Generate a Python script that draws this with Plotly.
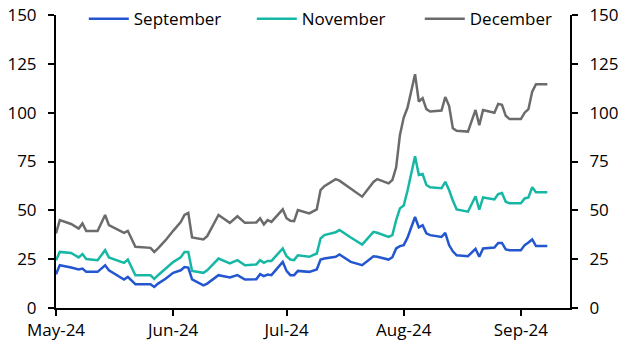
import plotly.graph_objects as go

dates = ["2024-05-01","2024-05-02","2024-05-05","2024-05-07","2024-05-08","2024-05-09","2024-05-12",
         "2024-05-14","2024-05-15","2024-05-19","2024-05-20","2024-05-22","2024-05-26","2024-05-27",
         "2024-05-28","2024-05-30","2024-06-01","2024-06-03","2024-06-04","2024-06-05","2024-06-06",
         "2024-06-09","2024-06-10","2024-06-13","2024-06-16","2024-06-18","2024-06-20","2024-06-23",
         "2024-06-24","2024-06-25","2024-06-26","2024-06-27","2024-06-30","2024-07-01","2024-07-02",
         "2024-07-03","2024-07-04","2024-07-07","2024-07-09","2024-07-10","2024-07-11","2024-07-14",
         "2024-07-15","2024-07-18","2024-07-21","2024-07-24","2024-07-25","2024-07-28","2024-07-29",
         "2024-07-30","2024-07-31","2024-08-01","2024-08-02","2024-08-04","2024-08-05","2024-08-06",
         "2024-08-07","2024-08-08","2024-08-11","2024-08-12","2024-08-13","2024-08-14","2024-08-15",
         "2024-08-18","2024-08-20","2024-08-21","2024-08-22","2024-08-25","2024-08-26","2024-08-27",
         "2024-08-28","2024-08-29","2024-09-01","2024-09-02","2024-09-03","2024-09-04","2024-09-05",
         "2024-09-08"]

september = [17.3,21.9,20.7,19.7,20.2,18.5,18.5,21.9,19.3,14.6,15.9,12.2,12.2,10.8,12.5,15.0,18.0,
             19.3,21.0,20.7,14.6,11.6,12.5,16.8,15.6,16.8,14.6,14.7,17.3,16.3,17.1,16.8,23.6,19.0,
             16.8,16.8,19.0,18.5,19.7,24.8,25.3,26.2,27.4,23.6,21.9,26.5,26.2,24.8,26.0,30.5,31.7,
             32.2,36.0,46.6,41.3,42.4,38.2,37.3,36.4,38.5,32.2,29.0,27.0,26.5,30.3,26.2,30.5,31.0,
             33.3,33.3,30.0,29.6,29.6,32.2,33.5,35.1,31.7,31.7]

november = [24.5,28.7,28.2,25.9,27.6,25.1,24.5,29.6,25.9,23.1,24.8,16.8,16.8,14.9,16.8,20.0,23.5,
            25.9,28.7,28.7,19.0,18.0,19.3,25.3,22.8,24.5,21.9,22.3,24.5,23.1,24.1,24.1,30.5,26.5,
            24.8,24.5,27.0,26.2,27.9,35.6,37.3,38.8,39.9,36.1,32.5,39.0,38.5,36.4,37.3,45.0,51.0,
            52.5,60.0,77.7,68.1,68.6,63.0,61.8,61.3,64.6,60.4,55.0,50.5,49.3,57.2,50.3,56.6,55.6,
            58.3,58.9,54.4,53.6,53.6,56.1,56.6,61.8,59.2,59.2]

december = [38.2,45.0,43.0,40.7,43.3,39.4,39.4,47.6,42.4,38.5,39.5,31.3,30.8,28.7,30.5,34.7,39.5,
            44.0,47.6,48.7,36.1,35.1,36.8,47.6,43.6,47.0,43.6,43.8,45.9,42.8,45.0,44.1,50.5,46.0,
            44.6,44.5,50.1,48.4,50.5,60.4,62.4,66.0,65.2,61.3,57.0,64.5,66.0,63.8,65.5,72.0,88.6,
            97.5,102.5,119.7,105.7,107.4,101.8,100.6,101.1,108.0,103.5,92.0,90.7,90.3,101.4,93.6,
            101.4,100.0,104.5,104.0,98.4,96.7,96.7,100.0,101.8,110.8,114.6,114.6]

series_names = ["September", "November", "December"]
colors = ["#2457CF", "#16B8A5", "#6B6B6B"]
y_ticks = [0, 25, 50, 75, 100, 125, 150]
x_ticks = ["2024-05-01", "2024-06-01", "2024-07-01", "2024-08-01", "2024-09-01"]

fig = go.Figure()
for name, vals, col in zip(series_names, [september, november, december], colors):
    fig.add_trace(go.Scatter(x=dates, y=vals, name=name, mode="lines",
                             line=dict(color=col, width=2.5)))
# invisible trace to anchor right axis
fig.add_trace(go.Scatter(x=[dates[0]], y=[None], yaxis="y2", showlegend=False,
                         hoverinfo="skip", mode="lines"))

font = dict(family="Open Sans", size=17, color="#000000")
axis_common = dict(range=[0, 150], tickvals=y_ticks, ticks="outside", ticklen=6, tickwidth=2,
                   tickcolor="black", showline=True, linecolor="black", linewidth=2,
                   showgrid=False, zeroline=False, tickfont=font, ticklabelstandoff=8)

fig.update_layout(
    width=630, height=355,
    margin=dict(l=56, r=60, t=15, b=47, autoexpand=False),
    paper_bgcolor="white", plot_bgcolor="white",
    font=font,
    xaxis=dict(type="date", range=["2024-05-01", "2024-09-14"], tickvals=x_ticks,
               tickformat="%b-%y", ticks="outside", ticklen=6, tickwidth=2, tickcolor="black",
               showline=True, linecolor="black", linewidth=2, showgrid=False, zeroline=False,
               tickfont=font),
    yaxis=dict(side="left", **axis_common),
    yaxis2=dict(side="right", overlaying="y", **axis_common),
    legend=dict(orientation="h", xref="container", yref="container", x=0.133, y=0.946,
                xanchor="left", yanchor="middle", bgcolor="rgba(0,0,0,0)", font=font,
                entrywidth=113, itemwidth=40, tracegroupgap=0),
    showlegend=True,
)

fig.write_html("out.html", config={"displayModeBar": False},
               post_script="document.body.style.margin='0';document.body.style.overflow='hidden';")
